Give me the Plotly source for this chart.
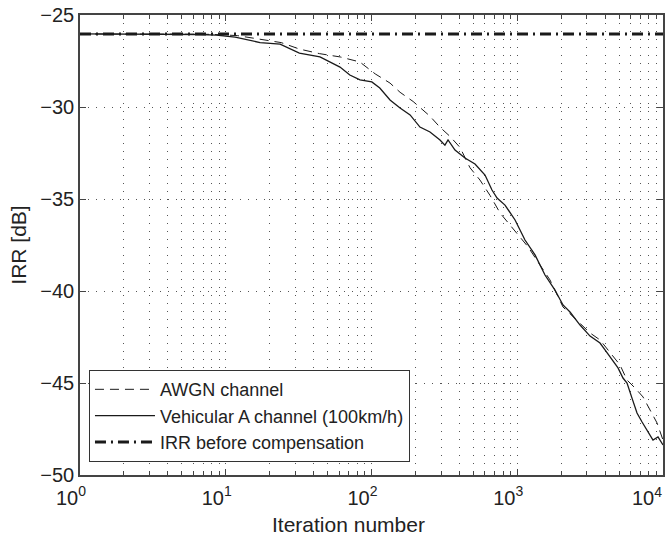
import plotly.graph_objects as go

# IRR before compensation (constant reference)
irr_x = [1, 10000]
irr_y = [-26.03, -26.03]

# AWGN channel
awgn_x = [1, 3, 8, 12, 17, 24, 32, 44, 61, 83, 106, 134, 157, 193, 252, 295, 346, 405, 474, 555,
          650, 762, 891, 1045, 1186, 1433, 1678, 2060, 2489, 3158, 3697, 4468, 5070, 5665, 6427,
          7295, 8147, 9099, 10000]
awgn_y = [-26.03, -26.03, -26.05, -26.12, -26.3, -26.5, -26.85, -27.1, -27.28, -27.55, -28.2, -28.7,
          -29.2, -29.7, -30.5, -31.1, -31.6, -32.2, -33.3, -33.97, -34.8, -35.76, -36.41, -37.07,
          -37.6, -38.59, -39.4, -40.87, -41.47, -42.28, -42.66, -43.48, -44.02, -44.84, -45.27,
          -45.76, -46.47, -47.17, -48.1]

# Vehicular A channel (100km/h)
veh_x = [1, 3, 6.7, 8.6, 11.6, 17.2, 23.6, 32, 44.3, 60.8, 71, 83.4, 100.5, 114, 134, 157, 184, 215,
         252, 295, 319, 335, 374, 438, 513, 601, 671, 727, 824, 966, 1130, 1324, 1550, 1815, 2060,
         2301, 2697, 3158, 3415, 3697, 4000, 4468, 4913, 5316, 5665, 6128, 6633, 7183, 7771, 8536,
         9240, 10000]
veh_y = [-26.03, -26.03, -26.06, -26.09, -26.2, -26.5, -26.58, -27.07, -27.28, -27.83, -28.26, -28.53,
         -28.64, -28.97, -29.62, -30.05, -30.43, -31.09, -31.36, -31.79, -32.07, -31.79, -32.34,
         -32.77, -33.1, -33.7, -34.51, -34.95, -35.33, -36.14, -37.23, -38.04, -39.13, -39.95,
         -40.76, -41.14, -41.85, -42.45, -42.66, -42.83, -43.2, -43.75, -44.18, -44.73, -45.0,
         -45.82, -46.63, -47.12, -47.55, -48.1, -47.93, -48.37]

x_tickvals = [1, 10, 100, 1000]
x_ticktext = ["10<sup>0</sup>", "10<sup>1</sup>", "10<sup>2</sup>", "10<sup>3</sup>"]
x_last_tick = 10000
x_last_text = "10<sup>4</sup>"
y_tickvals = [-50, -45, -40, -35, -30, -25]
y_ticktext = ["\u221250", "\u221245", "\u221240", "\u221235", "\u221230", "\u221225"]

line_col = "#1a1a1a"
axis_col = "#444"
grid_col = "#555"
grid_dash = "1px,7px"

fig = go.Figure()
fig.add_trace(go.Scatter(x=awgn_x, y=awgn_y, mode="lines", name="AWGN channel",
                         line=dict(color=line_col, width=1, dash="9px,6px")))
fig.add_trace(go.Scatter(x=veh_x, y=veh_y, mode="lines", name="Vehicular A channel (100km/h)",
                         line=dict(color=line_col, width=1.3)))
fig.add_trace(go.Scatter(x=irr_x, y=irr_y, mode="lines", name="IRR before compensation",
                         line=dict(color=line_col, width=3, dash="11px,5px,2px,5px")))

font_family = "Liberation Sans, Arial, Helvetica, sans-serif"

fig.update_layout(
    width=665, height=537,
    margin=dict(l=80, r=2, t=15, b=62),
    paper_bgcolor="white", plot_bgcolor="white",
    font=dict(family=font_family, color="#222", size=20),
    showlegend=True,
    legend=dict(x=0.0154, y=0.028, xanchor="left", yanchor="bottom",
                bgcolor="white", bordercolor="#333", borderwidth=1,
                font=dict(size=18, color="#222"), tracegroupgap=0,
                itemwidth=60),
    xaxis=dict(type="log", range=[0, 4], tickvals=x_tickvals, ticktext=x_ticktext,
               ticks="inside", ticklen=6, tickcolor=axis_col, ticklabelshift=-9,
               ticklabelstandoff=4,
               showline=True, linecolor=axis_col, linewidth=1.5, mirror="allticks",
               showgrid=True, gridcolor=grid_col, griddash=grid_dash, gridwidth=1,
               zeroline=False, automargin=False,
               minor=dict(dtick="D1", ticks="inside", ticklen=4, tickcolor=axis_col,
                          showgrid=True, gridcolor=grid_col, griddash=grid_dash, gridwidth=1),
               tickfont=dict(size=20)),
    yaxis=dict(range=[-50, -25], tickvals=y_tickvals, ticktext=y_ticktext,
               ticks="inside", ticklen=6, tickcolor=axis_col,
               showline=True, linecolor=axis_col, linewidth=1.5, mirror="allticks",
               showgrid=True, gridcolor=grid_col, griddash=grid_dash, gridwidth=1,
               zeroline=False, automargin=False,
               title=dict(text="IRR [dB]", font=dict(size=21), standoff=8),
               tickfont=dict(size=20)),
)

# last x tick label kept inside the page, and the x axis title (slightly left of centre, as in the reference)
fig.add_annotation(x=4, xref="x", y=-50, yref="y", text=x_last_text, showarrow=False,
                   xanchor="right", yanchor="top", xshift=1, yshift=-7,
                   font=dict(size=20, color="#222"))
fig.add_annotation(x=0.46, xref="paper", y=0, yref="paper", text="Iteration number",
                   showarrow=False, xanchor="center", yanchor="middle", yshift=-49,
                   font=dict(size=21, color="#222"))

fig.write_html("out.html")
